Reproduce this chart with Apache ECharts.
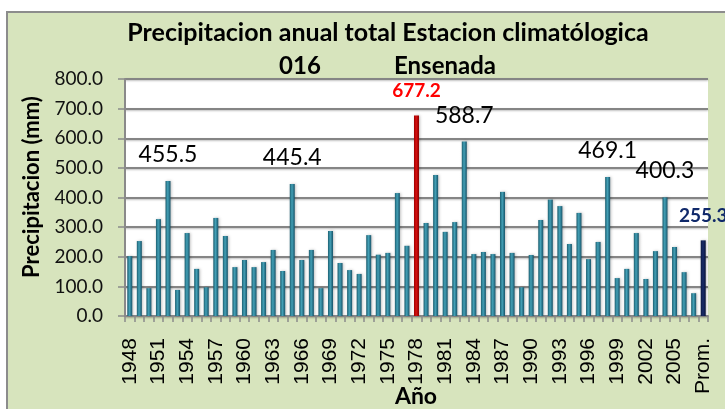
<!DOCTYPE html>
<html>
<head>
<meta charset="utf-8">
<script src="https://cdn.jsdelivr.net/npm/echarts@6/dist/echarts.min.js"></script>
<style>
  html, body { margin: 0; padding: 0; background: #fff; }
  #chart { width: 725px; height: 409px; }
</style>
</head>
<body>
<div id="chart"></div>
<script>
// annual totals (mm)
const years = [
  "1948", "1949", "1950", "1951", "1952", "1953", "1954", "1955", "1956", "1957",
  "1958", "1959", "1960", "1961", "1962", "1963", "1964", "1965", "1966", "1967",
  "1968", "1969", "1970", "1971", "1972", "1973", "1974", "1975", "1976", "1977",
  "1978", "1979", "1980", "1981", "1982", "1983", "1984", "1985", "1986", "1987",
  "1988", "1989", "1990", "1991", "1992", "1993", "1994", "1995", "1996", "1997",
  "1998", "1999", "2000", "2001", "2002", "2003", "2004", "2005", "2006", "2007",
  "Prom."
];
const precip = [
  202, 253, 94, 327, 455.5, 88, 280, 159, 97, 331,
  270, 165, 189, 165, 182, 223, 152, 445.4, 189, 223,
  94, 287, 179, 155, 142, 273, 207, 213, 415, 237,
  677.2, 314, 476, 284, 317, 588.7, 209, 216, 209, 419,
  213, 97, 206, 324, 393, 371, 243, 348, 192, 250,
  469.1, 128, 159, 280, 125, 219, 400.3, 233, 148, 77,
  255.3
];
const yTicks = [0, 100, 200, 300, 400, 500, 600, 700, 800];
// bars that carry a value label
const labelled = ["1952", "1965", "1983", "1998", "2004"];
const maxYear = "1978";
const avgCat = "Prom.";

const barGrad = (a, b, c) => new echarts.graphic.LinearGradient(0, 0, 1, 0, [
  { offset: 0, color: a },
  { offset: 0.45, color: b },
  { offset: 1, color: c }
]);

const seriesData = precip.map((v, i) => {
  const cat = years[i];
  const item = { value: v };
  if (cat === maxYear) {
    item.itemStyle = { color: barGrad("#9c0000", "#d81010", "#8a0000") };
    item.label = { show: true, color: "#ff0000", fontWeight: "bold", fontSize: 19 };
  } else if (cat === avgCat) {
    item.itemStyle = { color: barGrad("#0a1640", "#1a2c6a", "#08123a") };
    item.label = { show: true, color: "#10296a", fontWeight: "bold", fontSize: 19 };
  } else if (labelled.indexOf(cat) >= 0) {
    item.label = { show: true };
  }
  return item;
});

const chart = echarts.init(document.getElementById("chart"));
chart.setOption({
  animation: false,
  graphic: [
    {
      type: "rect",
      z: -10,
      shape: { x: 7, y: 12, width: 740, height: 420 },
      style: { fill: "#d7e4bd", stroke: "#8c8c8c", lineWidth: 2 }
    },
    {
      type: "text", x: 388, y: 33,
      style: {
        text: "Precipitacion anual total Estacion climatólogica",
        font: "bold 25px Lato", fill: "#000", textAlign: "center", textVerticalAlign: "middle"
      }
    },
    {
      type: "text", x: 300, y: 66,
      style: { text: "016", font: "bold 24px Lato", fill: "#000", textAlign: "center", textVerticalAlign: "middle" }
    },
    {
      type: "text", x: 445, y: 66,
      style: { text: "Ensenada", font: "bold 24px Lato", fill: "#000", textAlign: "center", textVerticalAlign: "middle" }
    },
    {
      type: "text", x: 32, y: 187, rotation: Math.PI / 2,
      style: { text: "Precipitacion (mm)", font: "bold 22px Lato", fill: "#000", textAlign: "center", textVerticalAlign: "middle" }
    },
    {
      type: "text", x: 416, y: 397,
      style: { text: "Año", font: "bold 23px Lato", fill: "#000", textAlign: "center", textVerticalAlign: "middle" }
    }
  ],
  grid: {
    left: 125,
    right: 17,
    top: 79,
    bottom: 93,
    show: true,
    backgroundColor: "#ffffff",
    borderWidth: 0
  },
  xAxis: {
    type: "category",
    data: years,
    axisLine: { lineStyle: { color: "#8a8a8a", width: 2 } },
    axisTick: { show: true, interval: 0, length: 6, lineStyle: { color: "#8a8a8a", width: 1.5 } },
    axisLabel: {
      interval: 2,
      rotate: 90,
      margin: 22,
      color: "#000",
      fontFamily: "Liberation Sans",
      fontSize: 21
    }
  },
  yAxis: {
    type: "value",
    min: yTicks[0],
    max: yTicks[yTicks.length - 1],
    interval: 100,
    axisLine: { show: true, lineStyle: { color: "#8a8a8a", width: 2 } },
    axisTick: { show: true, length: 7, lineStyle: { color: "#8a8a8a", width: 1.5 } },
    axisLabel: {
      margin: 22,
      color: "#111",
      fontFamily: "Lato",
      fontSize: 19,
      formatter: v => v.toFixed(1)
    },
    splitLine: {
      lineStyle: {
        color: "#858585",
        width: 2,
        shadowColor: "rgba(0,0,0,0.25)",
        shadowBlur: 2,
        shadowOffsetY: 1
      }
    }
  },
  series: [
    {
      type: "bar",
      barWidth: 5,
      data: seriesData,
      itemStyle: {
        color: barGrad("#1b5e70", "#43a0b6", "#17546a"),
        shadowColor: "rgba(0,0,0,0.25)",
        shadowBlur: 3,
        shadowOffsetX: 1
      },
      label: {
        show: false,
        position: "top",
        distance: 15,
        color: "#000",
        fontFamily: "Lato",
        fontSize: 23,
        formatter: p => p.value.toFixed(1)
      }
    }
  ]
});
</script>
</body>
</html>
